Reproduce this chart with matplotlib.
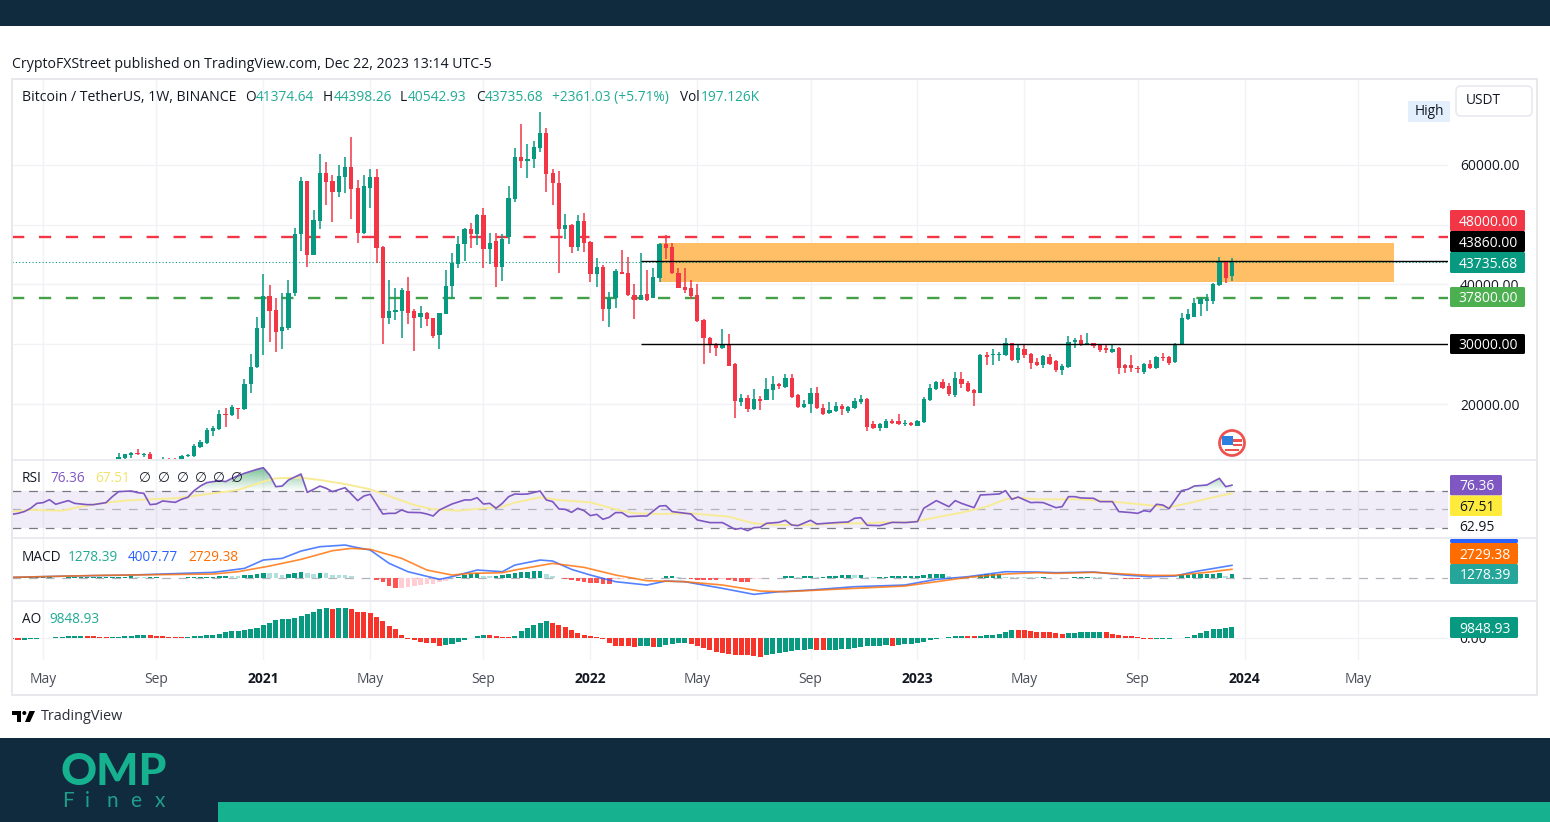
"""
    BTC/USDT weekly chart with RSI, MACD and AO panes,
    values read off the published picture
"""

import numpy as np
import pandas as pd
import matplotlib
matplotlib.use('Agg')
import matplotlib.pyplot as plt
from matplotlib.patches import Rectangle, Circle, Polygon, FancyBboxPatch

plt.rcParams['font.family'] = ['Open Sans', 'DejaVu Sans']

W, H = 1550, 822

# week 0 of the candles
START = pd.Timestamp('2020-07-27')

opens = [
    10650, 10933, 11490, 11880, 11490, 11716, 10450, 10500, 10878, 10821,
    10764, 11323, 11323, 12884, 13552, 15503, 15783, 18402, 18123, 19405,
    19126, 23307, 26205, 32671, 38078, 35681, 32225, 32783, 38635, 48390,
    57308, 44934, 50619, 58702, 57308, 55525, 57977, 59649, 56082, 48668,
    56193, 58033, 46327, 34454, 35458, 35570, 38914, 35570, 34566, 35290,
    34343, 31501, 35123, 39750, 43485, 46718, 49226, 48501, 51623, 45881,
    47275, 42927, 48000, 54243, 61378, 60653, 61043, 62882, 65279, 58590,
    57029, 49226, 49950, 46327, 50619, 47163, 41701, 42983, 35959, 37688,
    42147, 41979, 38190, 37409, 38357, 37688, 41144, 46718, 46327, 41979,
    39583, 39360, 38245, 34064, 31110, 30107, 29326, 30095, 26651, 20389,
    21077, 19126, 20798, 20686, 22360, 23307, 22860, 24422, 21523, 19517,
    19963, 21803, 19406, 18570, 18848, 19685, 18848, 19406, 20409, 20910,
    16731, 16061, 16061, 17176, 17176, 16619, 16842, 16396, 17008, 20632,
    22471, 23698, 23029, 21468, 24255, 23475, 22360, 21915, 28213, 28157,
    28213, 28213, 30164, 27321, 29216, 28324, 27098, 26541, 27878, 27209,
    25649, 26206, 30387, 30666, 29996, 30164, 29829, 29439, 28770, 29328,
    26485, 26485, 26095, 25426, 26652, 25983, 27934, 27878, 27042, 29885,
    34289, 34623, 36797, 37243, 37243, 39862, 43820, 41374.64,
]
highs = [
    11880, 11716, 11992, 12438, 11880, 12045, 10600, 11155, 10933, 10933,
    11490, 11602, 13273, 13998, 15949, 16339, 19015, 19405, 19852, 19405,
    24143, 28323, 34621, 41813, 39917, 37687, 38635, 40754, 49505, 57977,
    57308, 52403, 61767, 60541, 58311, 59984, 61378, 64666, 57420, 58311,
    59259, 59259, 46439, 40754, 39360, 39360, 41255, 35848, 36406, 35458,
    34454, 35290, 42370, 45212, 48112, 49505, 50341, 51734, 52738, 48668,
    48668, 48390, 56472, 62771, 66895, 63551, 63997, 68900, 66227, 59259,
    58980, 51734, 50173, 51623, 52013, 47275, 44488, 43262, 38747, 42537,
    45714, 44655, 40029, 45212, 42425, 42816, 46996, 48278, 46996, 42816,
    42816, 40754, 40029, 34176, 31221, 30274, 32504, 31668, 26819, 21745,
    21466, 22470, 21356, 24422, 24700, 23585, 25090, 25090, 21635, 20631,
    22750, 22918, 19963, 20409, 20409, 20075, 19685, 20966, 21523, 21078,
    17176, 16897, 17455, 17455, 18403, 17288, 17065, 17288, 21245, 23419,
    23865, 24255, 23586, 25370, 25370, 23865, 22471, 28436, 28770, 29160,
    28770, 31000, 30275, 29885, 29885, 28491, 27655, 28213, 28324, 27321,
    26764, 31390, 31111, 31501, 31836, 30275, 29996, 29996, 30108, 29550,
    26764, 28157, 26374, 26931, 27321, 28045, 28491, 28045, 30275, 35180,
    35849, 37800, 37912, 38358, 40197, 44600, 43820, 44398.26,
]
lows = [
    10500, 10764, 11044, 11490, 11155, 10400, 9900, 10400, 10400, 10400,
    10650, 11211, 11211, 12714, 13385, 14667, 15614, 16172, 17957, 17566,
    18958, 21913, 26002, 28212, 30441, 28770, 29159, 32336, 38078, 45603,
    42927, 44879, 49226, 53295, 50452, 54633, 55357, 50898, 46996, 48501,
    52849, 43652, 30095, 33340, 34064, 31110, 33340, 28881, 32671, 33060,
    31000, 29272, 35123, 37520, 42704, 43931, 46160, 46606, 42816, 43485,
    39639, 40586, 46718, 53852, 59426, 57754, 59426, 62213, 55525, 53295,
    41868, 47554, 45324, 45603, 45491, 40475, 39639, 33897, 32895, 36127,
    41701, 38078, 34288, 37409, 37242, 37688, 40475, 44209, 41813, 39360,
    38635, 37520, 33785, 26762, 28602, 28045, 29159, 26373, 17621, 19683,
    18680, 19015, 19015, 20631, 20631, 22470, 22749, 20965, 19405, 19405,
    18570, 19127, 18180, 18403, 18737, 18180, 18570, 19127, 20075, 15504,
    15783, 15504, 15950, 16731, 16507, 16340, 16340, 16340, 16897, 20520,
    22360, 22471, 21357, 21245, 22639, 22026, 19685, 21803, 26485, 26541,
    27209, 28045, 27209, 26931, 27767, 25816, 26373, 26095, 26541, 25370,
    24812, 26095, 29439, 29718, 29885, 29439, 28770, 28603, 28603, 25092,
    25259, 25370, 25259, 24980, 25928, 25928, 27209, 26485, 26931, 29885,
    34010, 34567, 34734, 35570, 36797, 39751, 40308, 40542.93,
]
closes = [
    11211, 11602, 11824, 11602, 11716, 10500, 10250, 10821, 10650, 10600,
    11323, 11490, 13000, 13720, 15614, 15949, 18402, 18179, 19518, 19237,
    23419, 26260, 32783, 38078, 35570, 32113, 32950, 38635, 48501, 57308,
    44934, 50731, 58702, 57197, 55525, 58088, 59649, 55915, 48668, 56472,
    57977, 46160, 34454, 35570, 35737, 39025, 35290, 34454, 35290, 34176,
    31388, 35290, 39750, 43652, 46829, 49226, 48501, 51623, 45881, 46996,
    42927, 47554, 54410, 61378, 60653, 61043, 62994, 65279, 58423, 56918,
    49226, 49950, 46327, 50619, 46996, 41701, 42983, 35959, 37800, 42258,
    41813, 38190, 37409, 38245, 37409, 41255, 46829, 46160, 41924, 39472,
    39025, 38078, 33897, 31110, 30107, 29438, 30095, 26373, 20520, 21077,
    19126, 20798, 20520, 22470, 23307, 23029, 24310, 21188, 19517, 19963,
    21803, 19406, 18403, 19016, 19685, 19127, 19573, 20520, 20910, 16173,
    16061, 16619, 17176, 16897, 16619, 16897, 16452, 17176, 20910, 22750,
    23753, 22639, 21636, 24423, 23307, 22193, 21915, 28157, 27878, 28324,
    28436, 30164, 27321, 29328, 28213, 26819, 26541, 28045, 26764, 25649,
    26373, 30387, 30721, 29885, 30220, 29718, 28993, 28993, 29272, 25983,
    25983, 26095, 25816, 26652, 25983, 27934, 27767, 26819, 29885, 34456,
    35013, 36964, 37633, 37521, 40030, 43820, 41144, 43735.68,
]

# the indicator panes start 17 weeks before the first visible candle
FIRST_WEEK = -17

rsi_weeks = [
    -17, -16, -15, -14, -13, -12, -11, -10, -8, -7, -5, -4, -2, -1, 0, 2, 3, 4, 5, 6,
    7, 8, 9, 10, 11, 12, 13, 14, 16, 17, 18, 20, 22, 23, 24, 25, 26, 27, 29, 30,
    31, 32, 33, 34, 36, 38, 39, 40, 42, 43, 44, 45, 46, 48, 49, 50, 51, 53, 55, 56,
    57, 58, 59, 60, 61, 62, 63, 64, 65, 67, 68, 69, 70, 71, 72, 73, 74, 75, 76, 77,
    78, 79, 80, 81, 83, 84, 86, 87, 88, 91, 92, 94, 96, 98, 99, 100, 101, 102, 103, 105,
    106, 107, 108, 110, 111, 114, 116, 117, 118, 119, 121, 123, 125, 127, 128, 130, 132, 133, 134, 136,
    137, 140, 141, 142, 143, 145, 146, 147, 149, 150, 151, 152, 153, 155, 156, 158, 159, 161, 162, 163,
    164, 165, 166, 167, 169, 170, 171, 173, 175, 176, 177,
]
rsi_values = [
    44.5, 45.6, 47.5, 51.1, 56.5, 57.3, 60.5, 55.5, 59.5, 56.5, 55.1, 55.1, 57.3, 63.8, 69.3, 70, 68.2, 67.4, 55.1, 55.8,
    59.1, 58.4, 57.6, 60.9, 63.1, 70.4, 75.4, 79.1, 81.3, 80.2, 83.8, 89.3, 93.6, 95.4, 87.4, 74.7, 75.4, 82, 88.5, 68.5,
    71.8, 75.4, 72.9, 69.3, 73.6, 59.5, 64.5, 66.4, 44.9, 45.6, 45.6, 49.3, 46.7, 46.4, 44.9, 42.7, 49.3, 55.8, 60.2, 60.2,
    62.7, 55.8, 56.5, 51.1, 56.5, 63.8, 66.7, 66.4, 66.7, 70, 60.2, 58.4, 50.4, 50, 46.7, 51.1, 48.5, 43.1, 44.5, 39.1,
    41.3, 46.4, 46.4, 42, 42.7, 42.7, 53.6, 54, 47.5, 44.9, 38.4, 35.5, 35.5, 28.2, 29.3, 26.7, 30, 30.4, 34.7, 35.8,
    38, 32.9, 32.2, 38, 34, 35.5, 36.2, 40.2, 40.9, 32.6, 32.2, 35.8, 35.5, 36.6, 51.1, 59.5, 52.9, 59.5, 56.5, 51.8,
    65.6, 66.7, 70.4, 60.9, 63.4, 57.3, 57.6, 57.3, 51.8, 52.9, 63.8, 63.8, 62.4, 62, 58.4, 58.4, 47.5, 46.4, 45.6, 48.5,
    47.5, 55.5, 54.7, 50.7, 70.4, 71.8, 75.4, 76.5, 83.8, 74.7, 76.36,
]
rsi_ma_weeks = [
    -17, -14, -9, -6, -2, 1, 5, 9, 15, 19, 23, 25, 29, 32, 36, 40, 44, 47, 50, 54, 58, 61, 63,
    67, 70, 75, 79, 82, 86, 91, 97, 101, 105, 109, 115, 118, 122, 126, 130, 134, 138, 141, 143, 146,
    149, 153, 158, 162, 167, 170, 174, 177,
]
rsi_ma_values = [
    47.5, 49.3, 48.5, 52.9, 57.3, 59.5, 60.9, 62, 67.4, 71.1, 80.2, 83.8, 84.5, 82, 77.6, 71.8, 62, 54.7, 50, 48.5, 51.1, 52.9, 57.3,
    63.1, 60.2, 57.6, 50, 45.6, 44.9, 45.6, 42, 34.7, 32.9, 32.9, 34.7, 34.7, 35.8, 35.8, 41.3, 46.4, 52.9, 60.9, 62.7, 60.9,
    60.9, 60.9, 58.4, 55.8, 52.2, 56.5, 63.1, 67.51,
]

macd_weeks = [
    -17, -8, 2, 15, 18, 20, 23, 26, 29, 32, 36, 38, 40, 43, 46, 51, 53, 57, 61, 63,
    67, 69, 72, 75, 79, 84, 87, 90, 96, 101, 105, 110, 117, 125, 130, 135, 141, 146,
    149, 155, 160, 164, 168, 171, 177,
]
macd_values = [
    108, 540, 864, 1728, 2484, 3024, 5724, 6264, 8640, 10044, 10584, 9720, 8964, 4644, 1944, -540, 324, 2484, 1944, 4104,
    5724, 5400, 2700, 864, -1296, -2376, -1080, -1296, -3456, -5400, -4536, -3996, -2916, -2376, -540, 324, 1944, 1836,
    1620, 1836, 864, 324, 540, 1944, 4007.77,
]
signal_weeks = [
    -17, -3, 15, 19, 24, 29, 34, 37, 40, 45, 49, 53, 56, 61, 63,
    69, 74, 79, 84, 90, 96, 102, 106, 117, 125, 130, 135, 141, 146,
    149, 155, 160, 164, 168, 173, 177,
]
signal_values = [
    108, 756, 1188, 1944, 3780, 5940, 8748, 9504, 9180, 6264, 2484, 864, 1404, 1620, 2484,
    4644, 3348, 864, -972, -1296, -2376, -4320, -4536, -3456, -2700, -1296, 108, 1188, 1620,
    1404, 1728, 1188, 756, 756, 1728, 2729.38,
]
macd_hist = [
    54, 54, 108, 108, 108, 108, 108, 54, 54, 108, 108, 108, 108, 108, 162, 216, 324,  # week -17 to -1
    324, 324, 432, 216, 108, 108, 108, 54, 54, 54,
    54, 216, 324, 324, 324, 324, 540, 648, 540, 432,
    756, 972, 1296, 1620, 1512, 1400, 972, 1188, 1512, 1944,
    1620, 1080, 1512, 1404, 972, 864, 756, 432, -108, -108,
    -108, -864, -1296, -2700, -3240, -3200, -3024, -2700, -2376, -2160,
    -1944, -1512, -1080, -216, 216, 864, 1296, 1512, 648, 432,
    432, 756, 1080, 1620, 1728, 1944, 2160, 2170, 1080, 432,
    -216, -324, -756, -1080, -1296, -1620, -1728, -2160, -2170, -540,
    -324, -216, -200, -190, -180, -108, -54, 540, 550, 216,
    -108, -324, -648, -650, -756, -760, -432, -756, -1080, -1296,
    -1300, -432, -324, -216, -200, -108, 540, 545, 216, 540,
    545, 216, 220, 432, 540, 864, 870, 756, 760, 324,
    108, 324, 330, 432, 440, 445, 540, 648, 756, 1080,
    1085, 1090, 432, 324, 320, 315, 310, 864, 1080, 1085,
    1296, 324, 216, 210, 205, 200, 108, 108, -216, -220,
    -225, -108, 324, 330, 335, 216, 108, -108, -110, -115,
    -324, -330, -432, -108, -105, -100, -95, 0, 54, 972,
    975, 1080, 1085, 1090, 1188, 1404, 540, 1278.39,
]
ao_values = [
    -1590, -2226, -1908, -1590, -1272, -318, 159, 318, 636, 1272, 1590, 1685, 1272, 1208, 954, 318, 477,  # week -17 to -1
    954, 1272, 1590, 2226, 2544, 2385, 1590, 1272, 954, 636,
    477, 954, 1272, 1908, 2226, 2862, 3816, 5088, 6360, 6678,
    7632, 8268, 9540, 12084, 14310, 16854, 17808, 18126, 19080, 20988,
    22260, 24804, 27030, 28620, 27030, 28620, 28779, 27030, 24486, 24168,
    23214, 20034, 15900, 11130, 7950, 2544, -954, -2544, -3816, -4770,
    -5406, -7632, -6996, -6360, -4134, -1908, -636, 1590, 2544, 2226,
    1272, 636, 318, 1908, 6360, 8904, 12084, 14310, 15900, 13674,
    12084, 10176, 6996, 4452, 2862, 1272, 318, -1590, -4770, -7950,
    -8109, -8268, -8904, -8268, -7950, -8904, -8586, -6996, -6360, -5406,
    -4770, -6360, -7950, -10176, -11766, -13356, -14946, -15900, -16218, -16536,
    -16854, -17808, -18126, -16536, -15900, -14310, -13674, -12720, -12084, -11448,
    -11130, -11766, -12084, -11448, -11289, -11130, -10494, -9540, -8904, -7950,
    -7632, -7473, -7314, -7950, -6996, -6360, -5724, -5088, -3816, -2544,
    -1590, -636, 954, 1908, 2067, 1908, 1590, 1908, 2862, 3021,
    3816, 5724, 7632, 7314, 6996, 6360, 5724, 5406, 5088, 4134,
    3816, 4134, 4770, 5406, 5565, 5724, 5883, 5088, 3816, 2544,
    1908, 1272, 318, -954, -1272, -1113, -954, -954, -636, -318,
    318, 2226, 4770, 6360, 7950, 8586, 8904, 9848.93,
]

support = 37800
resistance = 48000
last_close = 43735.68
flat_top = 43860
flat_bottom = 30000
zone_low, zone_high = 40400, 46900
zone_start, zone_end = 86, 202.8
flat_start = 83

# 30000 and 50000 have a grid line but their scale labels sit behind the price tags
price_ticks = [20000, 30000, 40000, 50000, 60000]
price_tick_labels = ['20000.00', '', '40000.00', '', '60000.00']
tick_dates = ['2020-05-04', '2020-09-07', '2021-01-04', '2021-05-03', '2021-09-06', '2022-01-03',
              '2022-05-02', '2022-09-05', '2023-01-02', '2023-05-01', '2023-09-04', '2024-01-01', '2024-05-06']
tick_labels = ['May', 'Sep', '2021', 'May', 'Sep', '2022', 'May', 'Sep', '2023', 'May', 'Sep', '2024', 'May']

GREEN = '#089981'
RED = '#f23645'
TEAL_TEXT = '#22ab94'
DARK = '#131722'
NAVY = '#102a3e'
MINT = '#16b290'
GRID = '#f1f2f5'
BORDER = '#e6e8ec'

# x pixel of week 23 and pixels per week, to line the panes up
X_WEEK23, X_STEP = 263.3, 6.29
xlim = (23 + (12 - X_WEEK23) / X_STEP, 23 + (1448 - X_WEEK23) / X_STEP)

fig = plt.figure(figsize=(W / 100, H / 100), dpi=100, facecolor='white')


def pane(top, bottom, ylim):
    ax = fig.add_axes([12 / W, 1 - bottom / H, (1448 - 12) / W, (bottom - top) / H])
    ax.set_xlim(xlim)
    ax.set_ylim(ylim)
    for s in ax.spines.values():
        s.set_visible(False)
    ax.set_xticks(week_ticks)
    ax.set_yticks([])
    ax.tick_params(length=0, labelbottom=False)
    ax.grid(axis='x', color=GRID, lw=1.0)
    ax.set_axisbelow(True)
    return ax


week_ticks = [(pd.Timestamp(d) - START).days / 7 for d in tick_dates]

ax = pane(80, 459, (10804, 74173))
ax_rsi = pane(460, 537, (19.8, 103.8))
ax_macd = pane(539, 600, (-7225, 12539))
ax_ao = pane(601, 660, (-21274, 35012))

# ---- candles
o, h, l, c = map(np.array, (opens, highs, lows, closes))
weeks = np.arange(len(o))
colors = [GREEN if b >= a else RED for a, b in zip(o, c)]

ax.yaxis.tick_right()
ax.set_yticks(price_ticks)
ax.set_yticklabels(price_tick_labels, fontsize=10, color=DARK)
ax.tick_params(axis='y', pad=8.6, length=0)
ax.grid(axis='y', color=GRID, lw=1.0)

ax.add_patch(Rectangle((zone_start, zone_low), zone_end - zone_start, zone_high - zone_low,
                       facecolor='#ffbf66', edgecolor='none', zorder=1.5))
ax.axhline(resistance, color=RED, lw=1.7, ls=(0, (5.2, 6.2)), zorder=1.6)
ax.axhline(support, color='#43a047', lw=1.7, ls=(0, (5.2, 6.2)), zorder=1.6)
ax.axhline(last_close, color=GREEN, lw=0.8, ls=(0, (1, 2)), zorder=1.6)
ax.vlines(weeks, l, h, colors=colors, lw=1.1, zorder=2)
ax.bar(weeks, np.abs(c - o), bottom=np.minimum(o, c), width=0.68, color=colors, zorder=2.1)
ax.hlines([flat_top, flat_bottom], flat_start, xlim[1], color='black', lw=1.0, zorder=3)

# ---- RSI
ax_rsi.axhspan(30, 70, color='#7e57c2', alpha=0.1, lw=0)
for level, col in ((70, '#787b86'), (50, '#b0b3bd'), (30, '#787b86')):
    ax_rsi.axhline(level, color=col, lw=0.9, ls=(0, (7, 6.3)), zorder=1.2)

ax_rsi.plot(rsi_weeks, rsi_values, color='#7e57c2', lw=1.2, zorder=3)
ax_rsi.plot(rsi_ma_weeks, rsi_ma_values, color='#f7eb96', lw=1.4, zorder=2.5)

# green gradient between the line and 70 where it is overbought
rw = np.array(rsi_weeks)
rv = np.array(rsi_values)
grad = np.zeros((64, 2, 4))
grad[:, :, :3] = matplotlib.colors.to_rgb('#2e9e5b')
grad[:, :, 3] = np.linspace(0.75, 0.0, 64)[:, None]
im = ax_rsi.imshow(grad, extent=(xlim[0], xlim[1], 70, 100), aspect='auto', origin='upper', zorder=2)
verts = [(rw[0], 70)] + [(x, max(v, 70)) for x, v in zip(rw, rv)] + [(rw[-1], 70)]
clip = Polygon(verts, closed=True, transform=ax_rsi.transData, facecolor='none', edgecolor='none')
ax_rsi.add_patch(clip)
im.set_clip_path(clip)
ax_rsi.set_xlim(xlim)
ax_rsi.set_ylim(19.8, 103.8)

# ---- MACD
hist = np.array(macd_hist)
hist_weeks = FIRST_WEEK + np.arange(len(hist))
hist_colors = []
for i, v in enumerate(hist):
    prev = hist[i - 1] if i else v
    if v >= 0:
        hist_colors.append(GREEN if v >= prev else '#b2dfdb')
    else:
        hist_colors.append('#ffcdd2' if v >= prev else '#ff5252')
ax_macd.axhline(0, color='#b0b3bd', lw=0.9, ls=(0, (7, 6.3)), zorder=1.2)
ax_macd.bar(hist_weeks, hist, width=0.72, color=hist_colors, zorder=2)
ax_macd.plot(macd_weeks, macd_values, color='#2962ff', lw=1.2, alpha=0.8, zorder=3)
ax_macd.plot(signal_weeks, signal_values, color='#ff6d00', lw=1.2, alpha=0.8, zorder=3.1)

# ---- AO
ao = np.array(ao_values)
ao_weeks = FIRST_WEEK + np.arange(len(ao))
ao_colors = [RED] + [GREEN if b >= a else '#f7342a' for a, b in zip(ao[:-1], ao[1:])]
ax_ao.axhline(0, color=GRID, lw=1.0, zorder=1)
ax_ao.bar(ao_weeks, ao, width=0.8, color=ao_colors, zorder=2)
ax_ao.tick_params(axis='x', labelbottom=True, pad=8.8, length=0)
ax_ao.set_xticklabels(tick_labels, fontsize=10, color='#4a4e59')
for lab, txt in zip(ax_ao.get_xticklabels(), tick_labels):
    if txt.isdigit():
        lab.set_fontweight('bold')
        lab.set_color(DARK)

# ---- everything around the chart, in pixels
top = fig.add_axes([0, 0, 1, 1], facecolor='none')
top.set_xlim(0, W)
top.set_ylim(H, 0)
top.axis('off')


def text(x, y, s, color=DARK, size=10, ha='left', **kw):
    # 1.5 px down, centre of the digits rather than of the font box
    top.text(x, y + 1.5, s, color=color, fontsize=size, ha=ha, va='center', **kw)


def tag(y0, y1, s, bg, fg='white', right=1525):
    top.add_patch(FancyBboxPatch((1450, y0), right - 1450, y1 - y0, boxstyle='round,pad=0,rounding_size=1.5',
                                 facecolor=bg, edgecolor='none', zorder=2))
    top.text((1450 + right) / 2 + 1, (y0 + y1) / 2 + 1.5, s, color=fg, fontsize=10,
             ha='center', va='center', zorder=3)


top.add_patch(Rectangle((0, 0), W, 26, facecolor=NAVY, edgecolor='none'))
top.add_patch(Rectangle((0, 738), W, 84, facecolor=NAVY, edgecolor='none'))
top.add_patch(Rectangle((218, 802), W - 218, 20, facecolor=MINT, edgecolor='none'))
top.add_patch(Rectangle((12, 79), 1525, 616, facecolor='none', edgecolor=BORDER, lw=1.4))
for y in (459.5, 538, 600.5):
    top.plot([12, 1537], [y, y], color=BORDER, lw=1.2)

text(12, 63, 'CryptoFXStreet published on TradingView.com, Dec 22, 2023 13:14 UTC-5', size=10.15)

text(22, 96, 'Bitcoin / TetherUS, 1W, BINANCE', size=10.15)
for x, s in ((245, 'O'), (323, 'H'), (400, 'L'), (476, 'C'), (680, 'Vol')):
    text(x, 96, s, size=9.8)
for x, s in ((256, '41374.64'), (334, '44398.26'), (408, '40542.93'), (485, '43735.68'),
             (552, '+2361.03 (+5.71%)'), (701, '197.126K')):
    text(x, 96, s, color=TEAL_TEXT, size=9.9)

text(22, 477, 'RSI', size=9.8)
text(50, 477, '76.36', color='#7e57c2', size=9.8)
text(95, 477, '67.51', color='#f3e26a', size=9.8)
for x in (145, 164, 183, 201, 219, 237):
    text(x, 477, '\u2205', ha='center', size=9.8)

text(22, 556, 'MACD', size=9.8)
text(68, 556, '1278.39', color=TEAL_TEXT, size=9.8)
text(128, 556, '4007.77', color='#2962ff', size=9.8)
text(188, 556, '2729.38', color='#ff6d00', size=9.8)

text(22, 618, 'AO', size=9.8)
text(49, 618, '9848.93', color=TEAL_TEXT, size=9.8)

# price scale tags
tag(210, 231, '48000.00', RED)
tag(231, 252, '43860.00', 'black')
tag(252, 273, '43735.68', GREEN)
tag(287, 307, '37800.00', '#4caf50')
tag(334, 354, '30000.00', 'black')

tag(475, 495.5, '76.36', '#7e57c2', right=1502)
tag(495.5, 516, '67.51', '#ffeb3b', fg=DARK, right=1502)
text(1477, 526, '62.95', ha='center')

tag(539, 543, '', '#2962ff', right=1518)
tag(543, 564, '2729.38', '#ff6d00', right=1518)
tag(564, 584, '1278.39', '#26a69a', right=1518)

# the AO tag covers most of the 0.00 scale label
top.text(1473, 639, '0.00', color=DARK, fontsize=10, ha='center', va='center', zorder=1)
tag(617, 638, '9848.93', GREEN, right=1518)

# High tag and currency button
top.add_patch(Rectangle((1408, 101), 42, 21, facecolor='#e3effd', edgecolor='none'))
text(1429, 110, 'High', ha='center', size=9.8)
top.add_patch(FancyBboxPatch((1456, 86), 76, 30, boxstyle='round,pad=0,rounding_size=5',
                             facecolor='white', edgecolor='#e8eaf0', lw=1.2))
text(1466, 99, 'USDT', size=9.8)

# US economic event flag
top.add_patch(Circle((1232, 443), 12.5, facecolor='white', edgecolor='#ef5350', lw=2))
top.add_patch(Rectangle((1222, 436), 11, 9, facecolor='#2f7fe0', edgecolor='none'))
top.add_patch(Rectangle((1233, 439), 9, 3, facecolor='#ef5350', edgecolor='none'))
top.add_patch(Rectangle((1233, 444), 9, 2, facecolor='#ef5350', edgecolor='none'))
top.add_patch(Rectangle((1225, 449), 14, 2, facecolor='#ef5350', edgecolor='none'))

# TradingView mark
top.add_patch(Polygon([(12, 711), (21, 711), (21, 722), (17, 722), (17, 715), (12, 715)], facecolor='black'))
top.add_patch(Circle((24.3, 713), 2, facecolor='black'))
top.add_patch(Polygon([(29.5, 711), (35, 711), (30, 722), (25, 722)], facecolor='black'))
text(41, 715, 'TradingView', size=10.4, color='#2a2e39')

# OMP Finex logo
text(61, 770, 'OMP', color=MINT, size=32, fontweight='black', family='Lato')
for x, s in ((62, 'F'), (85, 'i'), (107, 'n'), (130, 'e'), (155, 'x')):
    text(x, 799, s, color='#1f9f8a', size=15, family='Lato')

fig.savefig('out.png', dpi=100, facecolor='white')
